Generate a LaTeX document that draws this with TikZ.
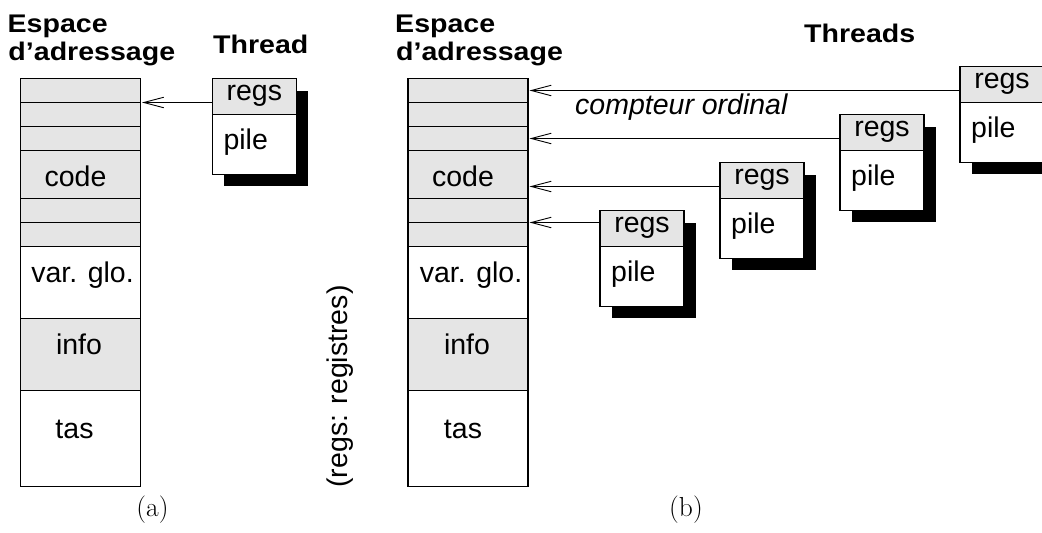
\documentclass[tikz,border=0pt]{standalone}
\usepackage{fontspec}
\newfontfamily\hv{Liberation Sans}
\newfontfamily\hvb{Liberation Sans}[FakeStretch=1.12]
\usetikzlibrary{arrows.meta,calc}
\tikzset{
  txt/.style={font=\hv\fontsize{28.5}{32}\selectfont, inner sep=0pt},
  ttl/.style={font=\hvb\bfseries\fontsize{25.5}{30}\selectfont, inner sep=0pt, anchor=base west},
  subcap/.style={font=\fontsize{27.5}{32}\selectfont, inner sep=0pt, anchor=base},
  cell/.style={draw, line width=1.2pt, minimum width=120pt, inner sep=0pt, anchor=north west, outer sep=0pt},
  grey/.style={fill=gray!20},
  whitecell/.style={fill=white},
  regsbox/.style={draw, line width=1.2pt, fill=gray!20, minimum width=84pt, minimum height=36pt, inner sep=0pt, outer sep=0pt, anchor=north west},
  pilebox/.style={draw, line width=1.2pt, fill=white, minimum width=84pt, minimum height=59.5pt, inner sep=0pt, outer sep=0pt, anchor=north west},
  shadowbox/.style={fill=black, minimum width=84pt, minimum height=95.5pt, inner sep=0pt, outer sep=0pt, anchor=north west},
  arr/.style={line width=0.9pt, -{Straight Barb[length=20pt,width=10.5pt,line width=0.9pt]}, shorten >=1.5pt}
}
\newcommand\threadbox[3]{%
  \node[shadowbox] (#1s) at (#2+12,#3+12) {};
  \node[regsbox] (#1r) at (#2,#3) {};
  \node[pilebox] (#1p) at (#1r.south west) {};
  \node[txt,anchor=base] (#1rt) at ($(#1r.north)+(0,21.3)$) {regs};
  \node[txt,anchor=base west] (#1pt) at ($(#1p.north west)+(11,34.6)$) {pile};
}
\newcommand\addrcol[2]{%
  \node[cell,grey,minimum height=24pt] (#11) at (#2,78.5) {};
  \node[cell,grey,minimum height=24pt] (#12) at (#11.south west) {};
  \node[cell,grey,minimum height=24pt] (#13) at (#12.south west) {};
  \node[cell,grey,minimum height=48pt] (#14) at (#13.south west) {};
  \node[cell,grey,minimum height=24pt] (#15) at (#14.south west) {};
  \node[cell,grey,minimum height=24pt] (#16) at (#15.south west) {};
  \node[cell,whitecell,minimum height=72pt] (#17) at (#16.south west) {};
  \node[cell,grey,minimum height=72pt] (#18) at (#17.south west) {};
  \node[cell,whitecell,minimum height=96pt] (#19) at (#18.south west) {};
}
\begin{document}
\begin{tikzpicture}[x=1pt,y=-1pt]
\useasboundingbox (0,0) rectangle (1042,533);

% ---------- (a) ----------
\node[ttl] (ea) at (7.5,32) {Espace};
\node[ttl] (da) at (8.3,60) {d’adressage};
\node[ttl] (th) at (213,53.5) {Thread};
\addrcol{a}{20.5}
\node[txt,anchor=base] (acode) at (75.5,186.7) {code};
\node[txt,anchor=base] (avar) at (82.5,282) {var. glo.};
\node[txt,anchor=base] (ainfo) at (79,354) {info};
\node[txt,anchor=base] (atas) at (74.5,438) {tas};
\threadbox{ta}{212.3}{78.7}
\draw[arr] (tar.west |- a1.south east) -- (a1.south east);
\node[subcap] (capa) at (152.5,516) {(a)};

% legend
\node[txt,anchor=base,rotate=90] (leg) at (347.5,386.5) {(regs: registres)};

% ---------- (b) ----------
\node[ttl] (eb) at (395,32) {Espace};
\node[ttl] (db) at (396,60) {d’adressage};
\node[ttl] (ths) at (804,42.5) {Threads};
\addrcol{b}{408}
\node[txt,anchor=base] (bcode) at (463,186.7) {code};
\node[txt,anchor=base] (bvar) at (471,282) {var. glo.};
\node[txt,anchor=base] (binfo) at (467,354) {info};
\node[txt,anchor=base] (btas) at (463,438) {tas};

\threadbox{t4}{960}{66.7}
\threadbox{t3}{840}{114.7}
\threadbox{t2}{720}{162.7}
\threadbox{t1}{600}{210.7}

\coordinate (c4) at ($(b4.south east)+(0,-12)$);
\draw[arr] (t4r.west |- b1.east) -- (b1.east);
\draw[arr] (t3r.west |- b3.east) -- (b3.east);
\draw[arr] (t2r.west |- c4) -- (c4);
\draw[arr] (t1r.west |- b5.south east) -- (b5.south east);

\node[txt,font=\hv\itshape\fontsize{28.5}{32}\selectfont,anchor=base west] (co) at (575,114) {compteur ordinal};
\node[subcap] (capb) at (686,516) {(b)};
\end{tikzpicture}
\end{document}
